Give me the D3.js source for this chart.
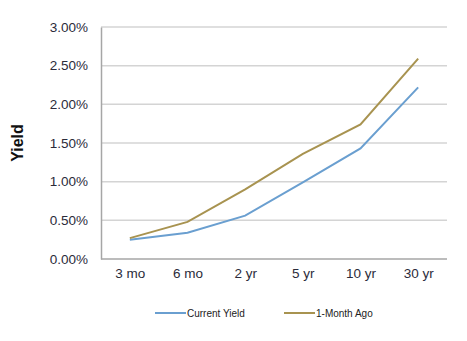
<!DOCTYPE html>
<html>
<head>
<meta charset="utf-8">
<script src="https://cdn.jsdelivr.net/npm/d3@7"></script>
<style>
  body { margin: 0; background: #fff; }
  svg { display: block; font-family: "Liberation Sans", Arial, sans-serif; }
</style>
</head>
<body>
<svg id="chart" width="467" height="341"></svg>
<script>
const maturities = ["3 mo", "6 mo", "2 yr", "5 yr", "10 yr", "30 yr"];
const currentYield = [0.25, 0.34, 0.56, 0.99, 1.43, 2.22];
const monthAgoYield = [0.27, 0.48, 0.90, 1.36, 1.74, 2.59];
const yTicks = [0, 0.5, 1.0, 1.5, 2.0, 2.5, 3.0];
const seriesNames = ["Current Yield", "1-Month Ago"];
const seriesColors = ["#6a9fd0", "#a89350"];

const svg = d3.select("#chart");
const m = { left: 101, top: 27, right: 447, bottom: 259 };

const x = d3.scalePoint().domain(maturities).range([m.left, m.right]).padding(0.5);
const y = d3.scaleLinear().domain([0, 3]).range([m.bottom, m.top]);

// horizontal gridlines
svg.append("g")
  .selectAll("line")
  .data(yTicks.filter(d => d > 0))
  .join("line")
  .attr("x1", m.left).attr("x2", m.right)
  .attr("y1", d => y(d)).attr("y2", d => y(d))
  .attr("stroke", "#d4d4d4").attr("stroke-width", 1.5);

// y axis
const yAxis = svg.append("g")
  .attr("transform", `translate(${m.left},0)`)
  .call(d3.axisLeft(y).tickValues(yTicks).tickFormat(d => d.toFixed(2) + "%").tickSize(0).tickPadding(13));
yAxis.select(".domain").attr("stroke", "#a6a6a6").attr("stroke-width", 1.5);
yAxis.selectAll("text").attr("font-size", 13.5).attr("fill", "#2b2b3a");

// x axis
const xAxis = svg.append("g")
  .attr("transform", `translate(0,${m.bottom})`)
  .call(d3.axisBottom(x).tickSize(0).tickPadding(9));
xAxis.select(".domain").attr("d", `M${m.left},0H${m.right}`).attr("stroke", "#a6a6a6").attr("stroke-width", 1.5);
xAxis.selectAll("text").attr("font-size", 13.5).attr("fill", "#2b2b3a");

// axis title
svg.append("text")
  .attr("transform", "translate(17,143) rotate(-90)")
  .attr("text-anchor", "middle")
  .attr("dominant-baseline", "central")
  .attr("font-size", 16).attr("font-weight", "bold").attr("fill", "#111")
  .text("Yield");

// yield curves
const line = d3.line().x((d, i) => x(maturities[i])).y(d => y(d));
[currentYield, monthAgoYield].forEach((vals, k) => {
  svg.append("path")
    .datum(vals)
    .attr("d", line)
    .attr("fill", "none")
    .attr("stroke", seriesColors[k])
    .attr("stroke-width", 2);
});

// legend
const legendX = [155, 284];
seriesNames.forEach((name, k) => {
  const g = svg.append("g").attr("transform", `translate(${legendX[k]},313)`);
  g.append("line").attr("x1", 0).attr("x2", 31).attr("y1", 0).attr("y2", 0)
    .attr("stroke", seriesColors[k]).attr("stroke-width", 2);
  g.append("text").attr("x", 32).attr("y", 3.5)
    .attr("font-size", 10).attr("fill", "#222").text(name);
});
</script>
</body>
</html>
